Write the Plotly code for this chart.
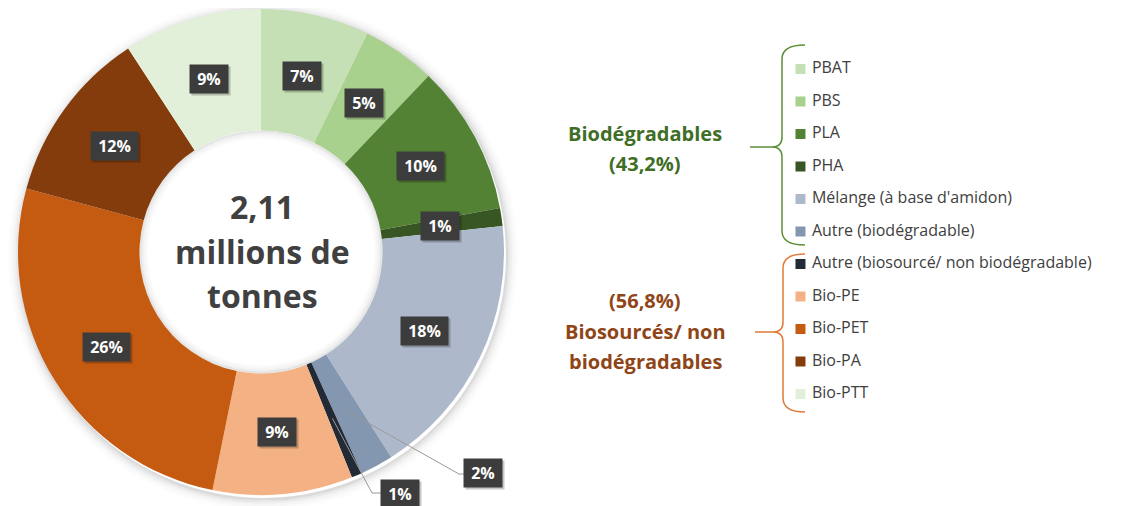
import math
import plotly.graph_objects as go

# ---------------- data ----------------
labels = ["PBAT", "PBS", "PLA", "PHA", "Mélange (à base d'amidon)", "Autre (biodégradable)",
          "Autre (biosourcé/ non biodégradable)", "Bio-PE", "Bio-PET", "Bio-PA", "Bio-PTT"]
values = [7.2, 4.9, 10.0, 1.2, 17.7, 2.2, 0.7, 9.3, 26.0, 11.6, 9.2]
groups = ["bio", "bio", "bio", "bio", "bio", "bio", "non", "non", "non", "non", "non"]
colors = ["#c5e0b4", "#a9d18e", "#548235", "#375623", "#adb9ca", "#8497b0",
          "#222a35", "#f4b183", "#c55a11", "#843c0c", "#e2f0d9"]
center_text = ["2,11", "millions de", "tonnes"]

# ---------------- geometry (pixels of the final page) ----------------
W, H = 1124, 506
OX, OY = 8, 8          # default page margin of the html body
CX, CY, R = 261, 252, 243
HOLE = 0.5
RL = 181               # radius of the percentage labels
FONT = "Open Sans"


def px(x):
    return (x - OX) / W


def py(y):
    return 1 - (y - OY) / H


fig = go.Figure()
fig.add_trace(go.Pie(
    labels=labels, values=values, sort=False, direction="clockwise", rotation=0,
    hole=HOLE, marker=dict(colors=colors, line=dict(width=0)),
    textinfo="none", hoverinfo="label+percent", showlegend=False,
    domain=dict(x=[px(CX - R), px(CX + R)], y=[py(CY + R), py(CY - R)]),
))

# legend drawn as a scatter on a category axis
n = len(labels)
first_y, step = 69 - OY, 32.5
y_lo = -first_y / step
y_hi = (H - first_y) / step
LEG_X0 = 801
fig.add_trace(go.Scatter(
    x=[0] * n, y=labels, mode="markers+text",
    marker=dict(symbol="square", size=10, color=colors),
    text=labels, texttemplate="\u00a0%{text}", textposition="middle right",
    textfont=dict(family=FONT, size=16, color="#404040"),
    hoverinfo="skip", showlegend=False, cliponaxis=False,
))

annotations = []
shapes = []

# percentage labels
total = sum(values)
cum = 0.0
outside = {5: ((459, 474), (483, 473)), 6: ((372, 493), (400, 494))}
for i, v in enumerate(values):
    theta = 2 * math.pi * (cum + v / 2) / total
    cum += v
    lx = CX + RL * math.sin(theta)
    ly = CY - RL * math.cos(theta)
    txt = f"<b>\u00a0{round(v / total * 100)}%\u00a0</b>"
    if i in outside:
        (ex, ey), (bx, by) = outside[i]
        shapes.append(dict(type="path", xref="paper", yref="paper",
                           path=f"M {px(lx)},{py(ly)} L {px(ex)},{py(ey)} L {px(bx - 15)},{py(ey)}",
                           line=dict(color="#9a9a9a", width=1)))
        lx, ly = bx, by
    common = dict(xref="paper", yref="paper", text=txt, showarrow=False, borderpad=3,
                  xanchor="center", yanchor="middle")
    annotations.append(dict(x=px(lx + 2), y=py(ly + 2), bgcolor="rgba(0,0,0,0.22)",
                            font=dict(family=FONT, size=16, color="rgba(0,0,0,0)"), **common))
    annotations.append(dict(x=px(lx), y=py(ly), bgcolor="#3c3c3c",
                            font=dict(family=FONT, size=16, color="white"), **common))

# center text, one line each
for txt, yy in zip(center_text, [207, 251, 295]):
    annotations.append(dict(
        x=px(CX + 1), y=py(yy), xref="paper", yref="paper", showarrow=False,
        text=f"<b>{txt}</b>", font=dict(family=FONT, size=32, color="#404040"),
        xanchor="center", yanchor="middle"))

# group titles
bio_sum = sum(v for v, g in zip(values, groups) if g == "bio")
non_sum = sum(v for v, g in zip(values, groups) if g == "non")
fmt = lambda s: f"{s:.1f}".replace(".", ",")
green_txt, brown_txt = "#3f6e26", "#8f4517"
for txt, yy in zip(["Biodégradables", f"({fmt(bio_sum)}%)"], [133, 163]):
    annotations.append(dict(x=px(645), y=py(yy), xref="paper", yref="paper", showarrow=False,
                            text=f"<b>{txt}</b>", font=dict(family=FONT, size=20, color=green_txt),
                            xanchor="center", yanchor="middle"))
for txt, yy in zip([f"({fmt(non_sum)}%)", "Biosourcés/ non", "biodégradables"], [300, 331, 361]):
    annotations.append(dict(x=px(645), y=py(yy), xref="paper", yref="paper", showarrow=False,
                            text=f"<b>{txt}</b>", font=dict(family=FONT, size=20, color=brown_txt),
                            xanchor="center", yanchor="middle"))


def brace(top, bot, tipx, tipy, vx, endx, color):
    p = (f"M {px(endx)},{py(top)} Q {px(vx)},{py(top)} {px(vx)},{py(top + 14)} "
         f"L {px(vx)},{py(tipy - 10)} Q {px(vx)},{py(tipy)} {px(vx - 10)},{py(tipy)} "
         f"L {px(tipx)},{py(tipy)} M {px(vx - 10)},{py(tipy)} "
         f"Q {px(vx)},{py(tipy)} {px(vx)},{py(tipy + 10)} "
         f"L {px(vx)},{py(bot - 14)} Q {px(vx)},{py(bot)} {px(endx)},{py(bot)}")
    return dict(type="path", xref="paper", yref="paper", path=p, line=dict(color=color, width=1.5))


shapes.append(brace(45, 245, 750, 147, 782, 805, "#5b8f3a"))
shapes.append(brace(254, 412, 755, 332, 783, 805, "#e07b39"))

# soft shadows around the ring and inside the hole
for k, a in enumerate([0.14, 0.09, 0.06, 0.035, 0.02, 0.01]):
    r = R + 1 + 2 * k
    shapes.append(dict(type="circle", xref="paper", yref="paper", layer="below",
                       x0=px(CX + 2 - r), x1=px(CX + 2 + r), y0=py(CY + 3 + r), y1=py(CY + 3 - r),
                       line=dict(color=f"rgba(0,0,0,{a})", width=2.2)))
rh = R * HOLE
for k, a in enumerate([0.10, 0.06, 0.035, 0.018]):
    r = rh - 1 - 2 * k
    shapes.append(dict(type="circle", xref="paper", yref="paper", layer="below",
                       x0=px(CX - r), x1=px(CX + r), y0=py(CY + r), y1=py(CY - r),
                       line=dict(color=f"rgba(0,0,0,{a})", width=2.2)))

fig.update_layout(
    width=W, height=H, margin=dict(l=0, r=0, t=0, b=0),
    paper_bgcolor="white", plot_bgcolor="rgba(0,0,0,0)",
    xaxis=dict(domain=[px(LEG_X0 - 10), 1], range=[-1, 35], visible=False, fixedrange=True),
    yaxis=dict(domain=[0, 1], range=[y_hi, y_lo], visible=False, fixedrange=True,
               type="category", categoryorder="array", categoryarray=labels),
    annotations=annotations, shapes=shapes, showlegend=False,
)

fig.write_html("out.html")
